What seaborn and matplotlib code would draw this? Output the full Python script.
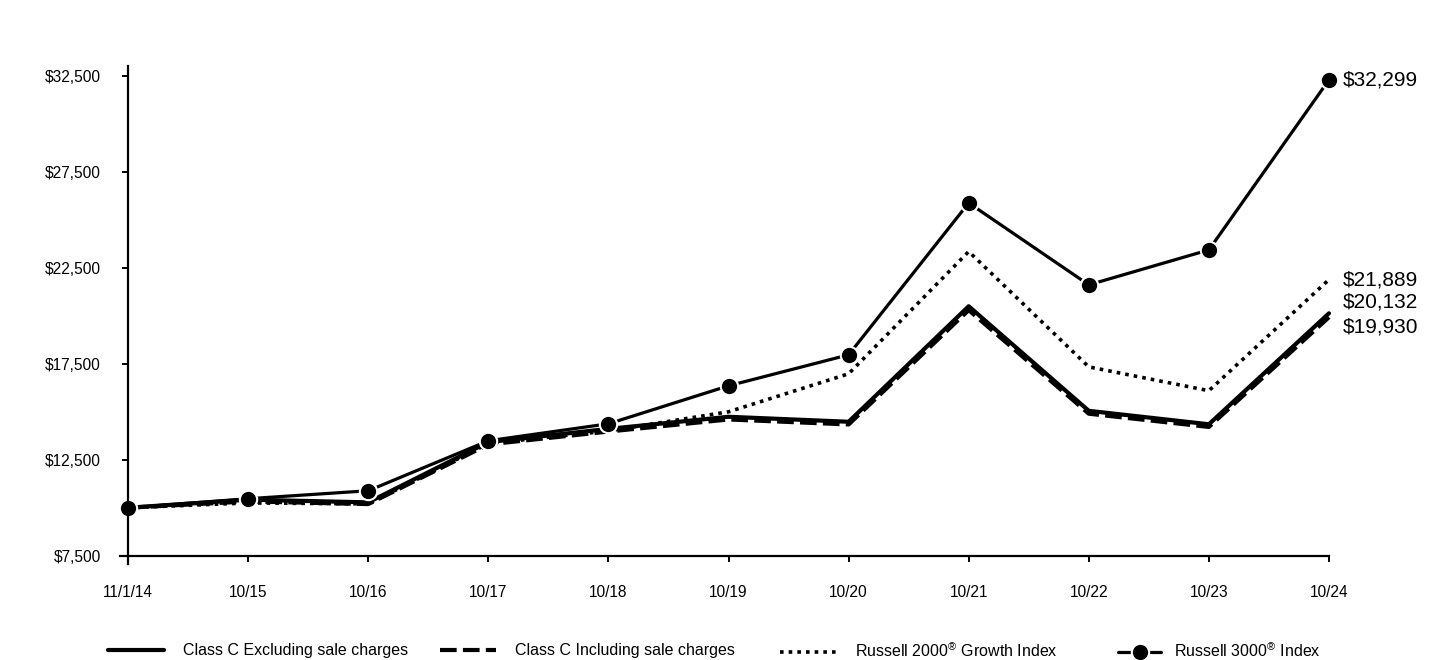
import numpy as np
import pandas as pd
import matplotlib
matplotlib.use("Agg")
import matplotlib.pyplot as plt
import seaborn as sns

# ---- data ----
dates = ["11/1/14", "10/15", "10/16", "10/17", "10/18", "10/19",
         "10/20", "10/21", "10/22", "10/23", "10/24"]
class_c_excl = [10000, 10420, 10280, 13420, 14110, 14740, 14480, 20500, 15050, 14350, 20132]
class_c_incl = [10000, 10330, 10190, 13300, 13970, 14600, 14340, 20300, 14900, 14210, 19930]
russell_2000g = [10000, 10250, 10200, 13350, 14000, 15000, 16980, 23350, 17340, 16100, 21889]
russell_3000 = [10000, 10470, 10885, 13490, 14375, 16354, 17969, 25885, 21615, 23438, 32299]
yticks = [7500, 12500, 17500, 22500, 27500, 32500]
labels = ["Class C Excluding sale charges", "Class C Including sale charges",
          "Russell 2000$^{\u00ae}$ Growth Index", "Russell 3000$^{\u00ae}$ Index"]

sns.set_theme(style="white")
plt.rcParams["font.family"] = ["Liberation Sans", "DejaVu Sans"]
plt.rcParams["mathtext.fontset"] = "custom"
plt.rcParams["mathtext.rm"] = "Liberation Sans"
plt.rcParams["mathtext.it"] = "Liberation Sans"
plt.rcParams["mathtext.default"] = "regular"

fig = plt.figure(figsize=(14.4, 6.6), dpi=100)
ax = fig.add_axes([0.0831, 0.1459, 0.9229 - 0.0831, 0.8994 - 0.1459])

xpos = np.arange(len(dates))
df = pd.DataFrame({"x": xpos, "excl": class_c_excl, "incl": class_c_incl,
                   "r2000": russell_2000g, "r3000": russell_3000})

sns.lineplot(data=df, x="x", y="incl", ax=ax, color="black", lw=3.0, clip_on=False)
l_incl = ax.get_lines()[-1]
l_incl.set_dashes((4, 1.5))
sns.lineplot(data=df, x="x", y="excl", ax=ax, color="black", lw=3.0, clip_on=False)
l_excl = ax.get_lines()[-1]
sns.lineplot(data=df, x="x", y="r2000", ax=ax, color="black", lw=2.6, clip_on=False)
l_r2000 = ax.get_lines()[-1]
l_r2000.set_dashes((1, 1.4))
sns.lineplot(data=df, x="x", y="r3000", ax=ax, color="black", lw=2.3, marker="o",
             markersize=12.5, markerfacecolor="black", markeredgecolor="white",
             markeredgewidth=1.5, clip_on=False)
l_r3000 = ax.get_lines()[-1]
l_r3000.set_linestyle("-")

ax.set_xlim(-0.07, 10)
ax.set_ylim(7083, 33000)
ax.spines["left"].set_position(("data", 0))
ax.spines["bottom"].set_position(("data", 7500))
for s in ["top", "right"]:
    ax.spines[s].set_visible(False)
for s in ["left", "bottom"]:
    ax.spines[s].set_color("black")
    ax.spines[s].set_linewidth(1.6)

ax.set_xticks(xpos)
ax.set_xticklabels(dates)
ax.set_yticks(yticks)
ax.set_yticklabels([f"${v:,}" for v in yticks])
ax.tick_params(axis="y", direction="out", length=4.5, width=1.4, color="black",
               pad=15, labelsize=11.2, labelcolor="black", left=True)
ax.tick_params(axis="x", direction="out", length=4, width=1.4, color="black",
               pad=17, labelsize=11.2, labelcolor="black", bottom=True)
ax.set_xlabel("")
ax.set_ylabel("")
ax.grid(False)
if ax.get_legend() is not None:
    ax.get_legend().remove()

# end labels
end_vals = [russell_3000[-1], russell_2000g[-1], class_c_excl[-1], class_c_incl[-1]]
offsets = [0, 0, 8, -7]
for v, dy in zip(end_vals, offsets):
    ax.annotate(f"${v:,}", xy=(xpos[-1], v), xytext=(10, dy), textcoords="offset points",
                ha="left", va="center", fontsize=15, color="black", annotation_clip=False)

# legend entries placed in slots
handles = [l_excl, l_incl, l_r2000, l_r3000]
slots = [108 / 1440, 440 / 1440, 780 / 1440, 1118 / 1440]
hlens = [3.5, 3.5, 3.5, 2.7]
hpads = [1.2, 1.2, 1.2, 0.8]
for h, lab, xs, hl, hp in zip(handles, labels, slots, hlens, hpads):
    fig.legend(handles=[h], labels=[lab], loc="center left", bbox_to_anchor=(xs, 0.014),
               frameon=False, fontsize=11.5, handlelength=hl, handletextpad=hp,
               borderpad=0, borderaxespad=0, labelcolor="black")

fig.savefig("out.png", dpi=100, facecolor="white")
